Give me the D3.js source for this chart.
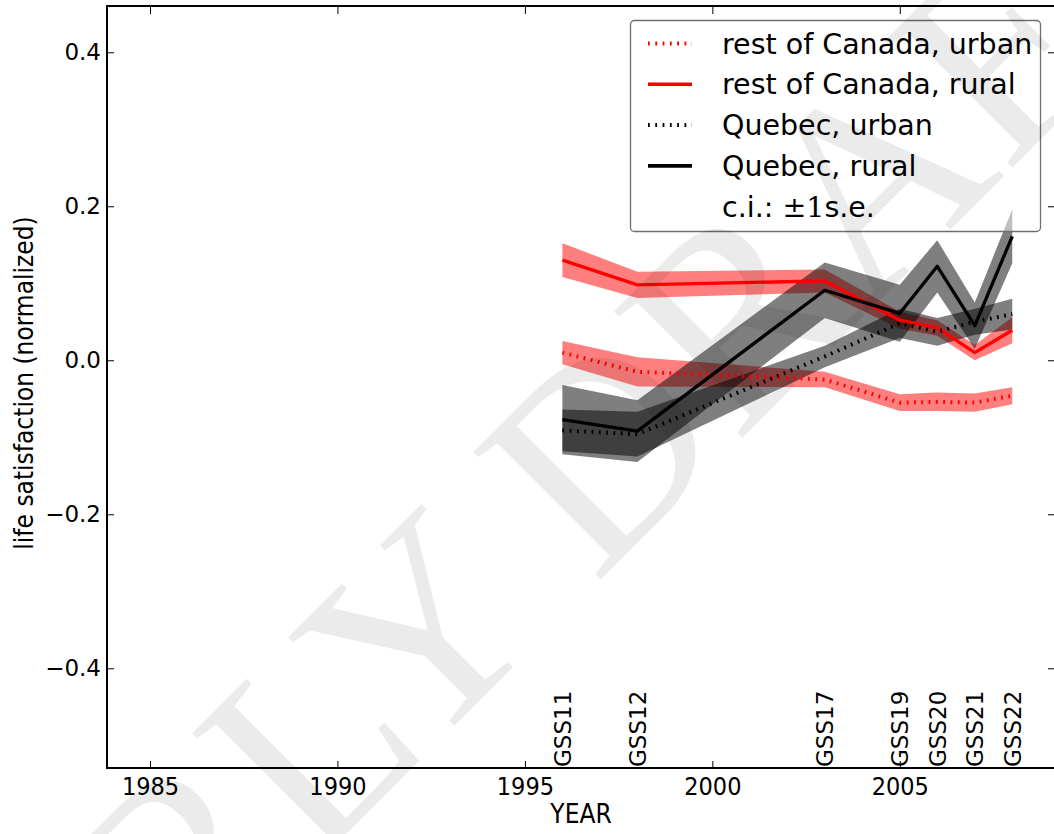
<!DOCTYPE html>
<html>
<head>
<meta charset="utf-8">
<script src="https://cdn.jsdelivr.net/npm/d3@7"></script>
<style>
  html, body { margin: 0; padding: 0; background: #fff; }
  svg { display: block; }
</style>
</head>
<body>
<div id="chart"></div>
<script>
// survey waves
var years = [1996, 1998, 2003, 2005, 2006, 2007, 2008];
var gssLabels = ["GSS11", "GSS12", "GSS17", "GSS19", "GSS20", "GSS21", "GSS22"];

// series means and standard errors
var rocUrban   = [0.010, -0.015, -0.025, -0.055, -0.054, -0.055, -0.046];
var rocUrbanSe = [0.015, 0.019, 0.010, 0.011, 0.012, 0.012, 0.011];
var rocRural   = [0.130, 0.098, 0.103, 0.052, 0.042, 0.010, 0.039];
var rocRuralSe = [0.022, 0.017, 0.015, 0.011, 0.010, 0.010, 0.017];
var qcUrban    = [-0.091, -0.096, 0.005, 0.048, 0.037, 0.050, 0.060];
var qcUrbanSe  = [0.027, 0.029, 0.014, 0.019, 0.018, 0.017, 0.020];
var qcRural    = [-0.077, -0.092, 0.091, 0.061, 0.122, 0.045, 0.161];
var qcRuralSe  = [0.045, 0.040, 0.036, 0.037, 0.034, 0.030, 0.035];

var xTicks = [1985, 1990, 1995, 2000, 2005];
var yTicks = [-0.4, -0.2, 0.0, 0.2, 0.4];
var legendLabels = ["rest of Canada, urban", "rest of Canada, rural", "Quebec, urban", "Quebec, rural"];

var width = 1054, height = 834;
var margin = {top: 6, right: -1, bottom: 66, left: 107};

var series = [
  {name: legendLabels[0], mean: rocUrban, se: rocUrbanSe, color: "#ff0000", dotted: true},
  {name: legendLabels[1], mean: rocRural, se: rocRuralSe, color: "#ff0000", dotted: false},
  {name: legendLabels[2], mean: qcUrban, se: qcUrbanSe, color: "#000000", dotted: true},
  {name: legendLabels[3], mean: qcRural, se: qcRuralSe, color: "#000000", dotted: false}
];

var xScale = d3.scaleLinear()
  .domain([1983.853, 2009.14])
  .range([margin.left, width - margin.right]);

var yScale = d3.scaleLinear()
  .domain([-0.5295, 0.4601])
  .range([height - margin.bottom, margin.top]);

var svg = d3.select("#chart").append("svg")
  .attr("width", width)
  .attr("height", height)
  .style("font-family", "'DejaVu Sans', sans-serif");

var condensed = "'DejaVu Sans Condensed', 'DejaVu Sans'";

// bands first (like fill_between), then all the lines on top
var area = d3.area()
  .x(function(d) { return xScale(d.year); })
  .y0(function(d) { return yScale(d.m - d.s); })
  .y1(function(d) { return yScale(d.m + d.s); });

var line = d3.line()
  .x(function(d) { return xScale(d.year); })
  .y(function(d) { return yScale(d.m); });

var rows = function(s) {
  return years.map(function(yr, i) { return {year: yr, m: s.mean[i], s: s.se[i]}; });
};

var plot = svg.append("g");

plot.selectAll("path.band")
  .data(series)
  .enter().append("path")
  .attr("class", "band")
  .attr("d", function(s) { return area(rows(s)); })
  .attr("fill", function(s) { return s.color; })
  .attr("fill-opacity", 0.5);

plot.selectAll("path.line")
  .data(series)
  .enter().append("path")
  .attr("class", "line")
  .attr("d", function(s) { return line(rows(s)); })
  .attr("fill", "none")
  .attr("stroke", function(s) { return s.color; })
  .attr("stroke-width", function(s) { return s.dotted ? 4 : 3.3; })
  .attr("stroke-dasharray", function(s) { return s.dotted ? "1.8,5.5" : null; })
  .attr("stroke-linejoin", "round");

// survey labels standing on the x axis
plot.selectAll("text.gss")
  .data(years)
  .enter().append("text")
  .attr("class", "gss")
  .attr("transform", function(d) { return "translate(" + xScale(d) + "," + (yScale.range()[0] - 1) + ") rotate(-90)"; })
  .attr("dy", "0.36em")
  .attr("font-size", 23)
  .text(function(d, i) { return gssLabels[i]; });

// axes: ticks inside on all four sides
var x0 = xScale.range()[0], x1 = xScale.range()[1];
var y0 = yScale.range()[0], y1 = yScale.range()[1];

var xAxisB = d3.axisBottom(xScale).tickValues(xTicks).tickSizeInner(-7).tickSizeOuter(0).tickPadding(9).tickFormat(d3.format("d"));
var xAxisT = d3.axisTop(xScale).tickValues(xTicks).tickSizeInner(-8).tickSizeOuter(0).tickFormat("");
var yAxisL = d3.axisLeft(yScale).tickValues(yTicks).tickSizeInner(-7).tickSizeOuter(0).tickPadding(6).tickFormat(function(d) { return d3.format(".1f")(d).replace("-", "\u2212"); });
var yAxisR = d3.axisRight(yScale).tickValues(yTicks).tickSizeInner(-7).tickSizeOuter(0).tickFormat("");

var gxb = svg.append("g").attr("transform", "translate(0," + y0 + ")").call(xAxisB);
gxb.selectAll("text").attr("font-size", 25).attr("font-family", condensed).attr("fill", "#000");
var gxt = svg.append("g").attr("transform", "translate(0," + y1 + ")").call(xAxisT);
var gyl = svg.append("g").attr("transform", "translate(" + x0 + ",0)").call(yAxisL);
gyl.selectAll("text").attr("font-size", 23).attr("font-family", "'DejaVu Sans'").attr("fill", "#000");
var gyr = svg.append("g").attr("transform", "translate(" + x1 + ",0)").call(yAxisR);

svg.selectAll(".domain").remove();
svg.selectAll(".tick line").attr("stroke", "#000").attr("stroke-width", 1);

// frame
svg.append("rect")
  .attr("x", x0).attr("y", y1)
  .attr("width", x1 - x0).attr("height", y0 - y1)
  .attr("fill", "none")
  .attr("stroke", "#000")
  .attr("stroke-width", 2);

// axis titles
svg.append("text")
  .attr("x", (x0 + x1) / 2)
  .attr("y", 823)
  .attr("text-anchor", "middle")
  .attr("font-size", 26)
  .attr("font-family", condensed)
  .text("YEAR");

svg.append("text")
  .attr("transform", "translate(33," + 383 + ") rotate(-90)")
  .attr("text-anchor", "middle")
  .attr("font-size", 26)
  .attr("font-family", condensed)
  .text("life satisfaction (normalized)");

// legend
var legend = svg.append("g");
legend.append("rect")
  .attr("x", 630.5).attr("y", 20.5)
  .attr("width", 410).attr("height", 211)
  .attr("rx", 4)
  .attr("fill", "#fff").attr("fill-opacity", 0.5)
  .attr("stroke", "#6e6e6e").attr("stroke-width", 1.3);

var rowY = d3.scaleLinear().domain([0, 1]).range([53.5, 94.3]);

var items = legend.selectAll("g.item")
  .data(series)
  .enter().append("g")
  .attr("class", "item")
  .attr("transform", function(d, i) { return "translate(0," + rowY(i) + ")"; });

items.append("line")
  .attr("x1", 648).attr("x2", 692)
  .attr("y1", -10).attr("y2", -10)
  .attr("stroke", function(s) { return s.color; })
  .attr("stroke-width", function(s) { return s.dotted ? 4 : 3.6; })
  .attr("stroke-dasharray", function(s) { return s.dotted ? "1.8,5.5" : null; });

items.append("text")
  .attr("x", 722)
  .attr("font-size", 28.5)
  .text(function(s) { return s.name; });

var ci = legend.append("text")
  .attr("x", 722)
  .attr("y", rowY(4))
  .attr("font-size", 28.5);
ci.append("tspan").text("c.i.: ");
ci.append("tspan").attr("font-family", "'DejaVu Serif', serif").text("\u00b11");
ci.append("tspan").text("s.e.");

// draft watermark over everything
svg.append("text")
  .attr("transform", "translate(-75,1255) rotate(-45)")
  .attr("font-family", "'Liberation Serif', serif")
  .attr("font-size", 275)
  .attr("fill", "#000")
  .attr("fill-opacity", 0.08)
  .text("EARLY DRAFT");
</script>
</body>
</html>
